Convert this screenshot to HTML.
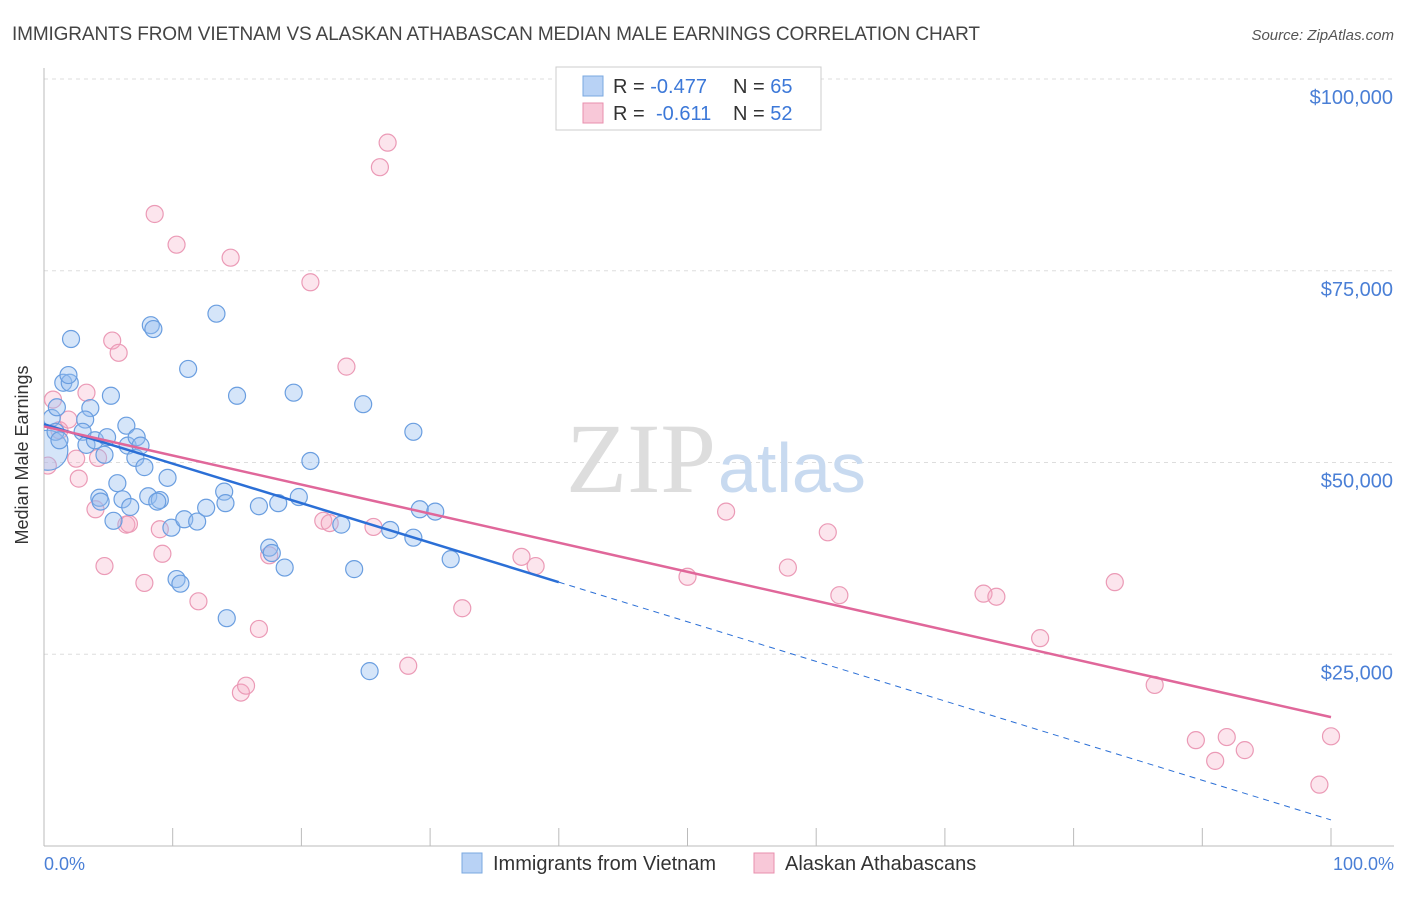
<!DOCTYPE html>
<html><head><meta charset="utf-8"><style>
body{margin:0;background:#fff;font-family:"Liberation Sans",sans-serif;}
svg text{font-family:"Liberation Sans",sans-serif;}
</style></head><body>
<svg width="1406" height="892">
<defs><clipPath id="plotclip"><rect x="44" y="60" width="1360" height="786"/></clipPath></defs>
<text x="12" y="40" font-size="19" fill="#444" textLength="968">IMMIGRANTS FROM VIETNAM VS ALASKAN ATHABASCAN MEDIAN MALE EARNINGS CORRELATION CHART</text>
<text x="1394" y="40" font-size="15" fill="#555" text-anchor="end" font-style="italic">Source: ZipAtlas.com</text>
<g id="grid"></g>
<text x="716" y="492" font-size="100" fill="#ddd" text-anchor="end" style="font-family:'Liberation Serif',serif">ZIP</text>
<text x="718" y="492" font-size="70" fill="#c8daf0">atlas</text>
<line x1="44" y1="68" x2="44" y2="846" stroke="#bbb"/>
<line x1="44" y1="846" x2="1394" y2="846" stroke="#bbb"/>
<text x="28" y="455" font-size="18" fill="#333" text-anchor="middle" transform="rotate(-90 28 455)">Median Male Earnings</text>
<text x="44" y="870" font-size="18" fill="#4a7fd6">0.0%</text>
<text x="1394" y="870" font-size="18" fill="#4a7fd6" text-anchor="end">100.0%</text>
<g id="pts" clip-path="url(#plotclip)"></g><g id="lines"></g>
<g>
<rect x="556" y="67" width="265" height="63" fill="#fff" stroke="#ccc"/>
<rect x="583" y="76" width="20" height="20" fill="#b8d2f5" stroke="#7aa8e0"/>
<rect x="583" y="103" width="20" height="20" fill="#f8c8d8" stroke="#e88fae"/>
<text x="613" y="93" font-size="20" fill="#333">R = <tspan fill="#3c78d8">-0.477</tspan><tspan x="733">N = </tspan><tspan fill="#3c78d8">65</tspan></text>
<text x="613" y="120" font-size="20" fill="#333">R = <tspan fill="#3c78d8" x="656">-0.611</tspan><tspan x="733">N = </tspan><tspan fill="#3c78d8">52</tspan></text>
</g>
<g>
<rect x="462" y="853" width="20" height="20" fill="#b8d2f5" stroke="#7aa8e0"/>
<text x="493" y="870" font-size="20" fill="#333">Immigrants from Vietnam</text>
<rect x="754" y="853" width="20" height="20" fill="#f8c8d8" stroke="#e88fae"/>
<text x="785" y="870" font-size="20" fill="#333">Alaskan Athabascans</text>
</g>
</svg>
<script>
const yTicks=[25000,50000,75000,100000];
const yTickLabels=["$25,000","$50,000","$75,000","$100,000"];
const blueX=[0.3,0.6,1.0,2.1,1.5,2.0,1.9,3.6,3.2,3.0,3.3,3.96,4.7,5.2,4.9,6.4,6.5,7.2,7.1,7.5,7.8,5.7,4.3,4.4,6.1,6.7,5.4,8.3,8.5,8.1,9.0,8.8,9.6,9.9,10.9,11.9,11.2,13.4,14.0,14.1,12.6,15.0,16.7,18.2,17.5,17.7,18.7,19.4,19.8,20.7,23.1,24.1,24.8,25.3,10.3,10.6,14.2,26.9,28.7,28.7,29.2,30.4,31.6,0.9,1.2];
const blueY=[51.6,55.8,57.2,66.1,60.4,60.4,61.4,57.1,55.6,54.0,52.3,52.9,51.0,58.7,53.3,54.8,52.2,53.3,50.6,52.2,49.4,47.3,45.4,44.9,45.2,44.2,42.4,67.9,67.4,45.6,45.1,44.9,48.0,41.5,42.6,42.3,62.2,69.4,46.2,44.7,44.1,58.7,44.3,44.7,38.9,38.2,36.3,59.1,45.5,50.2,41.9,36.1,57.6,22.8,34.8,34.2,29.7,41.2,54.0,40.2,43.9,43.6,37.4,54.0,52.9];
const pinkX=[0.3,0.7,1.2,1.9,2.5,2.7,3.3,4.0,4.2,4.7,5.3,5.8,6.4,6.6,7.8,8.6,9.0,9.2,10.3,12.0,14.5,15.3,15.7,16.7,17.5,20.7,21.7,22.2,23.5,25.6,26.1,26.7,28.3,32.5,37.1,38.2,50.0,53.0,57.8,60.9,61.8,73.0,74.0,77.4,83.2,86.3,89.5,91.0,91.9,93.3,100,99.1];
const pinkY=[49.6,58.2,54.2,55.6,50.5,47.9,59.1,43.9,50.6,36.5,65.9,64.3,41.9,42.0,34.3,82.4,41.3,38.1,78.4,31.9,76.7,20.0,20.9,28.3,37.9,73.5,42.4,42.1,62.5,41.6,88.5,91.7,23.5,31.0,37.7,36.5,35.1,43.6,36.3,40.9,32.7,32.9,32.5,27.1,34.4,21.0,13.8,11.1,14.2,12.5,14.3,8.0];
const blueTrend=[0,55.0,40,34.4,100,3.4];
const pinkTrend=[0,54.7,100,16.8];
const xs=p=>44+p*12.87, ys=v=>846-v*0.00767;
const NS="http://www.w3.org/2000/svg";
function mk(t,a,par){const e=document.createElementNS(NS,t);for(const k in a)e.setAttribute(k,a[k]);document.getElementById(par).appendChild(e);return e;}
yTicks.forEach((v,i)=>{
 const l=mk('line',{x1:44,x2:1394,y1:ys(v),y2:ys(v),stroke:'#ddd','stroke-dasharray':'4,4'},'grid');
 
 
 const t=mk('text',{x:1393,y:ys(v)+25,'font-size':20,fill:'#4a7fd6','text-anchor':'end'},'grid');
 t.textContent=yTickLabels[i];
 
 
});
for(let i=1;i<=10;i++){const l=mk('line',{x1:xs(i*10),x2:xs(i*10),y1:828,y2:846,stroke:'#bbb'},'grid');
 
 }
pinkX.forEach((x,i)=>{const c=mk('circle',{cx:xs(x),cy:ys(pinkY[i]*1000),r:8.5,fill:'rgba(245,170,195,0.3)',stroke:'#eb9ab6','stroke-width':1.2},'pts');
 
 });
blueX.forEach((x,i)=>{const c=mk('circle',{cx:xs(x),cy:ys(blueY[i]*1000),r:i==0?20:8.5,fill:'rgba(150,190,240,0.4)',stroke:'#6a9ee0','stroke-width':1.2},'pts');
 
 });
let b=mk('line',{x1:xs(blueTrend[0]),y1:ys(blueTrend[1]*1000),x2:xs(blueTrend[2]),y2:ys(blueTrend[3]*1000),stroke:'#2b6fd6','stroke-width':2.5},'lines');


b=mk('line',{x1:xs(blueTrend[2]),y1:ys(blueTrend[3]*1000),x2:xs(blueTrend[4]),y2:ys(blueTrend[5]*1000),stroke:'#2b6fd6','stroke-width':1,'stroke-dasharray':'6,5'},'lines');


b=mk('line',{x1:xs(pinkTrend[0]),y1:ys(pinkTrend[1]*1000),x2:xs(pinkTrend[2]),y2:ys(pinkTrend[3]*1000),stroke:'#e0679a','stroke-width':2.5},'lines');


</script>
</body></html>
